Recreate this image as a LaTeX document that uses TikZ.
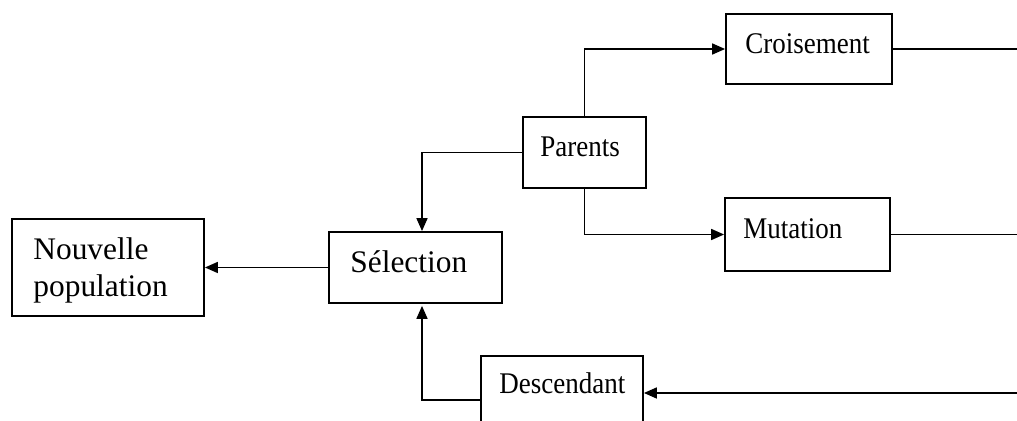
\documentclass[tikz,border=0pt]{standalone}
\usepackage{fontspec}
\setmainfont{Liberation Serif}
\usetikzlibrary{arrows.meta}
% narrower setting for the right-hand labels
\newcommand{\narrowtext}[1]{\scalebox{0.9}[1]{#1}}
\begin{document}
\begin{tikzpicture}[x=0.5pt,y=-0.5pt,
  box/.style={draw, line width=0.9pt, rectangle, inner sep=0pt},
  lbl/.style={anchor=base west, inner sep=0pt, font=\fontsize{15.7}{18.5}\selectfont},
  slbl/.style={anchor=base west, inner sep=0pt, font=\fontsize{15}{18}\selectfont},
  link/.style={line width=0.85pt},
  arr/.style={line width=0.85pt, -{Triangle[length=6.5pt,width=5.5pt]}}]
\useasboundingbox (0,0) rectangle (1017,421);
\clip (0,0) rectangle (1017,421);

% boxes
\node[box, minimum width=96pt,   minimum height=48.5pt] (nouv) at (108,267.5) {};
\node[box, minimum width=86.5pt, minimum height=35.5pt] (sel)  at (415.5,267.5) {};
\node[box, minimum width=61.5pt, minimum height=35.5pt] (par)  at (584.5,152.5) {};
\node[box, minimum width=83pt,   minimum height=35pt]   (cro)  at (809,49) {};
\node[box, minimum width=82.5pt, minimum height=36.5pt] (mut)  at (807.5,234.5) {};
\node[box, minimum width=81pt,   minimum height=37pt]   (des)  at (562,393) {};

% labels
\node[lbl, align=left] (nouv-t) at (33,297) {Nouvelle\\population};
\node[lbl] (sel-t) at (350,273) {Sélection};
\node[slbl] (par-t) at (540,157) {\narrowtext{Parents}};
\node[slbl] (cro-t) at (745,54) {\narrowtext{Croisement}};
\node[slbl] (mut-t) at (743,239) {\narrowtext{Mutation}};
\node[slbl] (des-t) at (499,394) {\narrowtext{Descendant}};

% helper coordinates
\coordinate (selcol) at (422,0);
\coordinate (edge) at (1017,0);

% connectors
\draw[arr] (par.west) -| (sel.north -| selcol);
\draw[arr] (par.north) |- (cro.west);
\draw[arr] (par.south) |- (mut.west);
\draw[link] (cro.east) -- (cro.east -| edge);
\draw[link] (mut.east) -- (mut.east -| edge);
\draw[arr] (des.east -| edge) -- (des.east);
\draw[arr] ([yshift=-3.5pt]des.west) -| ([yshift=-1pt]sel.south -| selcol);
\draw[arr] (sel.west) -- (nouv.east);
\end{tikzpicture}
\end{document}
